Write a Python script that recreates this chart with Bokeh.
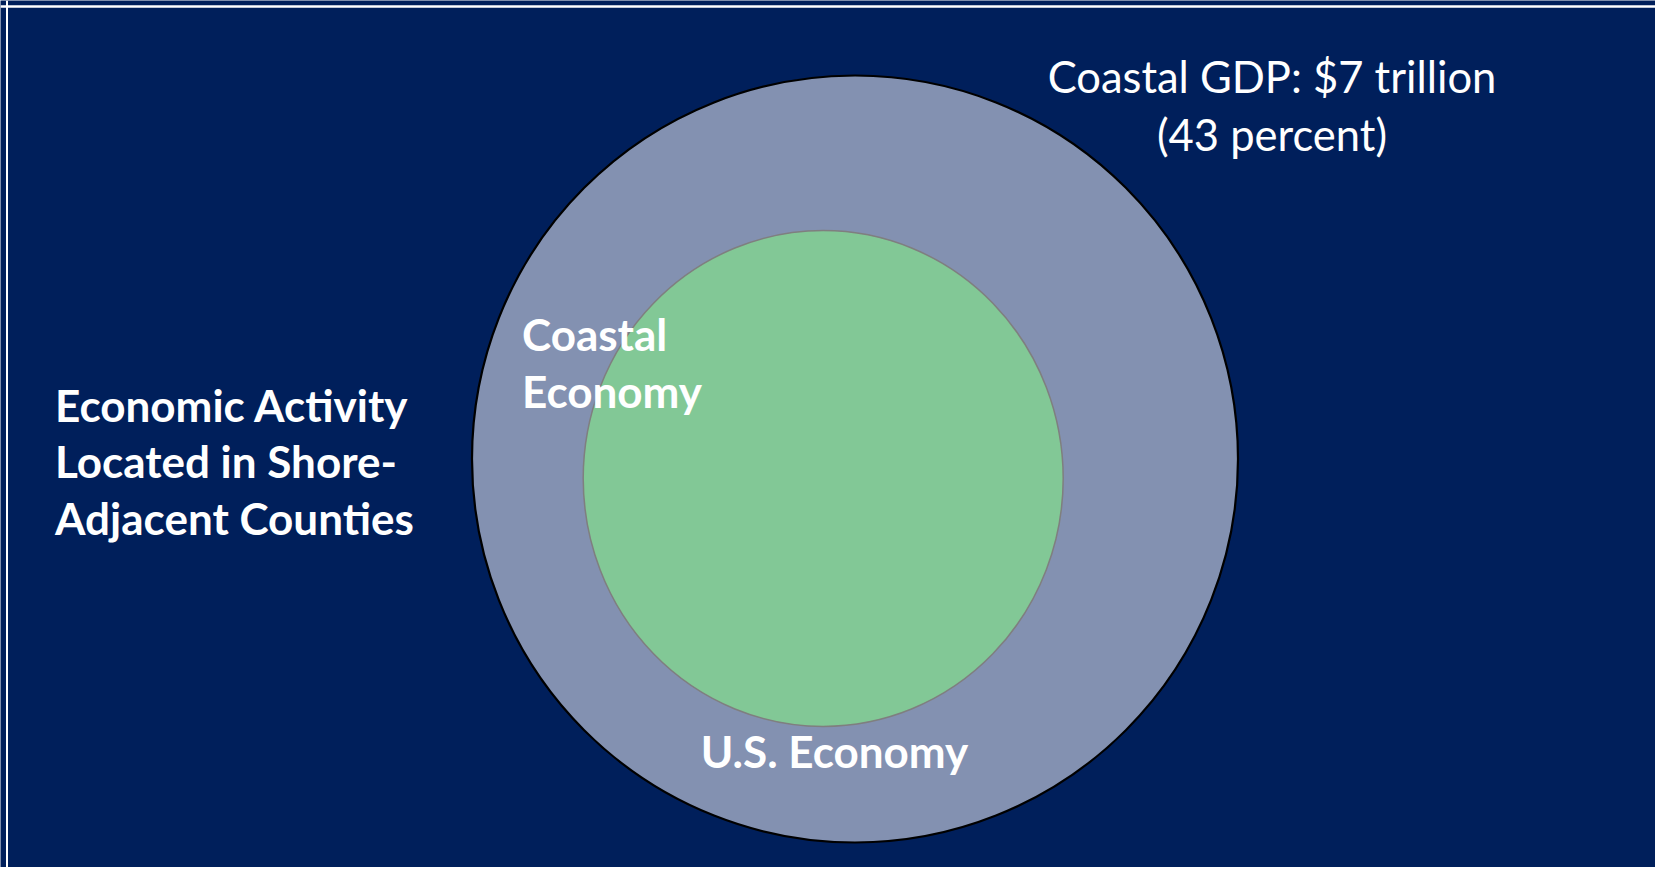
from bokeh.plotting import figure
from bokeh.models import Range1d, ColumnDataSource, Span
from bokeh.core.properties import value
from bokeh.embed import file_html
from bokeh.resources import INLINE

# ---- data ----
coastal_gdp_trillion = 7
coastal_share_percent = 43
gdp_lines = [f"Coastal GDP: ${coastal_gdp_trillion} trillion", f"({coastal_share_percent} percent)"]
outer_label_lines = ["Economic Activity", "Located in Shore-", "Adjacent Counties"]
inner_label_lines = ["Coastal", "Economy"]
us_label = ["U.S. Economy"]
circle_names = ["U.S. Economy", "Coastal Economy"]

# ---- styles ----
NAVY = "#001F5B"
OUTER_FILL = "#8391B1"
INNER_FILL = "#82C896"
FONT = value("Lato")

W, H = 1655, 867
p = figure(width=W, height=H, output_backend="svg", toolbar_location=None,
           x_range=Range1d(0, W), y_range=Range1d(H, 0),
           x_axis_type=None, y_axis_type=None, min_border=0,
           background_fill_color=NAVY, border_fill_color=NAVY,
           outline_line_color=None)
p.grid.visible = False

# thin white frame lines (top and left)
p.add_layout(Span(location=6.5, dimension="height", line_color="white", line_width=2))
p.add_layout(Span(location=6, dimension="width", line_color="white", line_width=2.5))

# circles (ellipses in pixel coordinates)
circles = ColumnDataSource(dict(
    name=circle_names,
    x=[854.5, 822.7],
    y=[458.5, 478.0],
    w=[766, 480],
    h=[767, 496],
    fill=[OUTER_FILL, INNER_FILL],
    line=["#000000", "#7F7F7F"],
    lw=[2.2, 1.5],
))
p.ellipse(x="x", y="y", width="w", height="h", source=circles,
          fill_color="fill", line_color="line", line_width="lw")

# GDP annotation (regular)
p.text(x=[1271.5] * len(gdp_lines), y=[75 + 58 * i for i in range(len(gdp_lines))],
       text=gdp_lines, text_align="center", text_baseline="middle",
       text_font=FONT, text_font_size="43.5px", text_color="white")

# left label (bold)
p.text(x=[54.5] * len(outer_label_lines), y=[404 + 56.5 * i for i in range(len(outer_label_lines))],
       text=outer_label_lines, text_align="left", text_baseline="middle",
       text_font=FONT, text_font_style="bold", text_font_size="44px", text_color="white")

# coastal economy label
p.text(x=[521.5] * len(inner_label_lines), y=[333 + 57.5 * i for i in range(len(inner_label_lines))],
       text=inner_label_lines, text_align="left", text_baseline="middle",
       text_font=FONT, text_font_style="bold", text_font_size="44px", text_color="white")

# U.S. economy label
p.text(x=[834], y=[750], text=us_label, text_align="center", text_baseline="middle",
       text_font=FONT, text_font_style="bold", text_font_size="44px", text_color="white")

open("out.html", "w").write(file_html(p, INLINE))
